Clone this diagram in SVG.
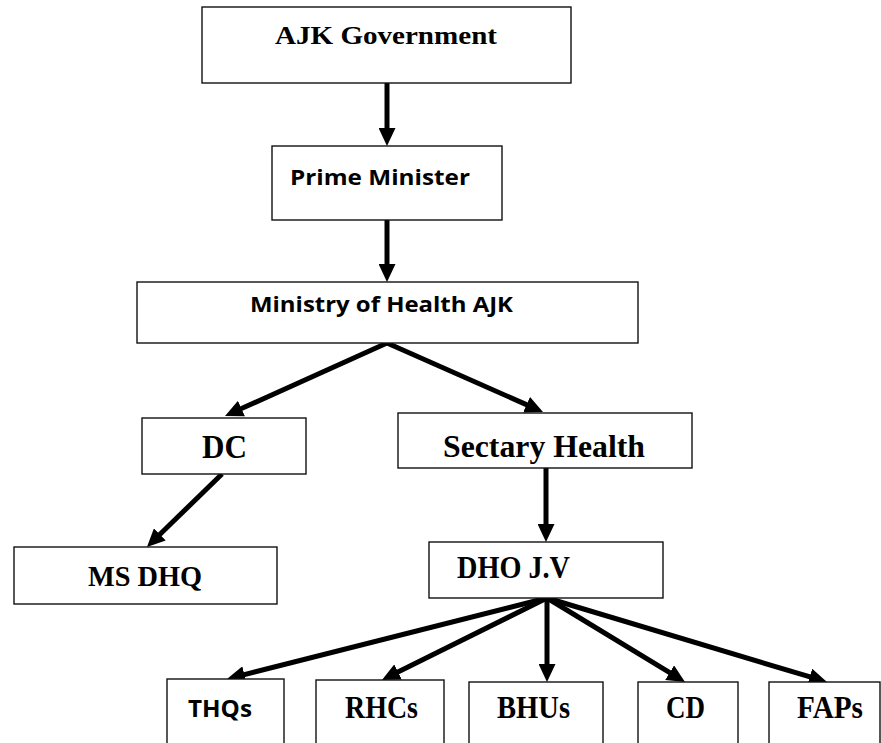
<svg xmlns="http://www.w3.org/2000/svg" width="881" height="743" viewBox="0 0 881 743">
<style>
.box{fill:#fff;stroke:#111;stroke-width:1.4}
.serif{font-family:"Liberation Serif","Times New Roman",serif;font-weight:bold;fill:#000}
.sans{font-family:"Open Sans","Liberation Sans",Arial,sans-serif;font-weight:bold;fill:#000}
.conn{stroke:#000;stroke-width:5;fill:none;marker-end:url(#ah)}
</style>
<defs>
<marker id="ah" viewBox="0 0 18 17" markerWidth="18" markerHeight="17" markerUnits="userSpaceOnUse" refX="3" refY="8.5" orient="auto">
<path d="M0,0 L18,8.5 L0,17 z" fill="#000"/>
</marker>
</defs>
<rect width="881" height="743" fill="#fff"/>
<g id="connectors">
<line class="conn" x1="387" y1="83" x2="387" y2="131"/>
<line class="conn" x1="387" y1="220" x2="387" y2="267"/>
<line class="conn" x1="387" y1="343" x2="238.7" y2="409.8"/>
<line class="conn" x1="387" y1="343" x2="529.3" y2="405.9"/>
<line class="conn" x1="222" y1="474" x2="157.7" y2="536.5"/>
<line class="conn" x1="546" y1="468" x2="546" y2="527"/>
<line class="conn" x1="547" y1="598" x2="241.5" y2="675.3"/>
<line class="conn" x1="547" y1="598" x2="395.4" y2="673.3"/>
<line class="conn" x1="547" y1="598" x2="547" y2="667"/>
<line class="conn" x1="547" y1="598" x2="672.2" y2="674.2"/>
<line class="conn" x1="547" y1="598" x2="812.6" y2="677.7"/>
</g>
<g id="ajk-government">
<rect class="box" x="202" y="7" width="369" height="76"/>
<text class="serif" x="275" y="44" font-size="26" textLength="222" lengthAdjust="spacingAndGlyphs">AJK Government</text>
</g>
<g id="prime-minister">
<rect class="box" x="272" y="146" width="230" height="74"/>
<text class="sans" x="290" y="185" font-size="22" textLength="180" lengthAdjust="spacingAndGlyphs">Prime Minister</text>
</g>
<g id="ministry">
<rect class="box" x="137" y="282" width="501" height="61"/>
<text class="sans" x="250" y="312" font-size="22" textLength="263" lengthAdjust="spacingAndGlyphs">Ministry of Health AJK</text>
</g>
<g id="dc">
<rect class="box" x="142" y="418" width="164" height="56"/>
<text class="serif" x="202" y="458" font-size="33" textLength="45" lengthAdjust="spacingAndGlyphs">DC</text>
</g>
<g id="sectary-health">
<rect class="box" x="398" y="413" width="294" height="55"/>
<text class="serif" x="443" y="457" font-size="31" textLength="202" lengthAdjust="spacingAndGlyphs">Sectary Health</text>
</g>
<g id="ms-dhq">
<rect class="box" x="14" y="547" width="263" height="57"/>
<text class="serif" x="88" y="586" font-size="30" textLength="114" lengthAdjust="spacingAndGlyphs">MS DHQ</text>
</g>
<g id="dho-jv">
<rect class="box" x="429" y="542" width="234" height="56"/>
<text class="serif" x="457" y="578" font-size="32" textLength="113" lengthAdjust="spacingAndGlyphs">DHO J.V</text>
</g>
<g id="thqs">
<rect class="box" x="167" y="679" width="117" height="80"/>
<text class="sans" x="188" y="717" font-size="24" textLength="64" lengthAdjust="spacingAndGlyphs">THQs</text>
</g>
<g id="rhcs">
<rect class="box" x="316" y="680" width="128" height="80"/>
<text class="serif" x="345" y="718" font-size="31" textLength="73" lengthAdjust="spacingAndGlyphs">RHCs</text>
</g>
<g id="bhus">
<rect class="box" x="469" y="682" width="134" height="80"/>
<text class="serif" x="497" y="718" font-size="31" textLength="73" lengthAdjust="spacingAndGlyphs">BHUs</text>
</g>
<g id="cd">
<rect class="box" x="638" y="682" width="100" height="80"/>
<text class="serif" x="666" y="718" font-size="31" textLength="39" lengthAdjust="spacingAndGlyphs">CD</text>
</g>
<g id="faps">
<rect class="box" x="769" y="682" width="111" height="80"/>
<text class="serif" x="797" y="718" font-size="31" textLength="66" lengthAdjust="spacingAndGlyphs">FAPs</text>
</g>
</svg>
